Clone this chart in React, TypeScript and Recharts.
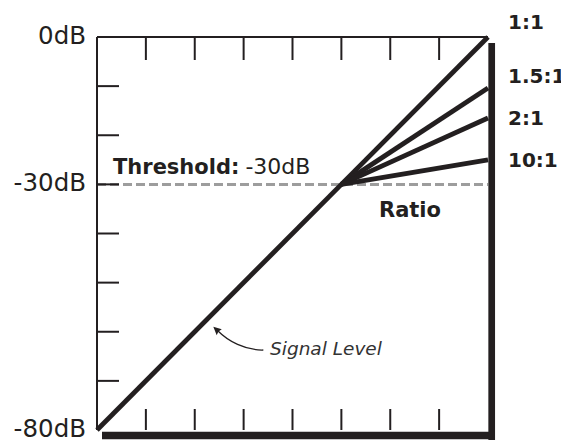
import React from 'react';
import { LineChart, Line, XAxis, YAxis, ReferenceLine, ReferenceDot, LabelList } from 'recharts';

// ---- data ----
const inputLevels = [-80, -30, 0];
const unityOutput = [-80, -30, 0];
const ratio15Output: (number | null)[] = [null, -30, -10.4];
const ratio2Output: (number | null)[] = [null, -30, -16.5];
const ratio10Output: (number | null)[] = [null, -30, -25];
const thresholdDb = -30;
const innerTicks = [-70, -60, -50, -40, -30, -20, -10];
const levelTicks = [-80, -70, -60, -50, -40, -30, -20, -10, 0];
const labelledLevels = [0, -30, -80];
const levelLabels = ['0dB', '-30dB', '-80dB'];
const ratioLabels = ['1:1', '1.5:1', '2:1', '10:1'];
const thresholdLabel = ['Threshold:', '-30dB'];
const ratioTitle = 'Ratio';
const signalLabel = 'Signal Level';
const signalPoint = -57;

const data = inputLevels.map((input, i) => ({
  input,
  unity: unityOutput[i],
  r15: ratio15Output[i],
  r2: ratio2Output[i],
  r10: ratio10Output[i],
}));

const INK = '#231f20';
const FONT = '"DejaVu Sans", sans-serif';

const TopTick = (p: any) => (
  <line x1={p.x} y1={p.y} x2={p.x} y2={p.y + 23} stroke={INK} strokeWidth={2} />
);
const BottomTick = (p: any) => (
  <line x1={p.x} y1={p.y} x2={p.x} y2={p.y - 21} stroke={INK} strokeWidth={2} />
);
const RightTick = (p: any) => (
  <line x1={p.x - 22} y1={p.y} x2={p.x} y2={p.y} stroke={INK} strokeWidth={2} />
);
const LeftTick = (p: any) => {
  const v = p.payload?.value;
  const idx = labelledLevels.indexOf(v);
  return (
    <g>
      {v > -80 && v < 0 && (
        <line x1={p.x} y1={p.y} x2={p.x + 22} y2={p.y} stroke={INK} strokeWidth={2} />
      )}
      {idx >= 0 && (
        <text x={p.x - 11} y={p.y} dy="0.28em" textAnchor="end" fontFamily={FONT} fontSize={24.5} fill={INK}>
          {levelLabels[idx]}
        </text>
      )}
    </g>
  );
};

const makeRatioLabel = (text: string, lastValue: number | null, dy: number) => (props: any) => {
  const x = props.x ?? props.viewBox?.x;
  const y = props.y ?? props.viewBox?.y;
  if (props.value !== lastValue || x == null || y == null) return null;
  return (
    <text x={x + 20} y={y + dy} fontFamily={FONT} fontWeight="bold" fontSize={20} fill={INK}>
      {text}
    </text>
  );
};

const ThresholdLabel = (props: any) => {
  const vb = props.viewBox || {};
  return (
    <text x={vb.x + 16} y={vb.y - 10} fontFamily={FONT} fontSize={21} fill={INK}>
      <tspan fontWeight="bold">{thresholdLabel[0]}</tspan>
      <tspan dx={6} fontSize={22}>{thresholdLabel[1]}</tspan>
    </text>
  );
};

const RatioTitle = (p: any) => (
  <text x={p.cx + 37.6} y={p.cy + 32.6} fontFamily={FONT} fontWeight="bold" fontSize={21} fill={INK}>
    {ratioTitle}
  </text>
);

const SignalAnnotation = (p: any) => {
  const { cx, cy } = p;
  return (
    <g>
      <path
        d={`M${cx + 53.9},${cy + 33} C${cx + 35.6},${cy + 33.5} ${cx + 18.6},${cy + 24} ${cx + 8.6},${cy + 14}`}
        fill="none"
        stroke={INK}
        strokeWidth={1.3}
      />
      <polygon
        points={`${cx + 3.9},${cy + 9.7} ${cx + 12.4},${cy + 12.3} ${cx + 9},${cy + 14.5} ${cx + 7.3},${cy + 18.2}`}
        fill={INK}
      />
      <text x={cx + 60.6} y={cy + 38} fontFamily={FONT} fontStyle="italic" fontSize={18.5} fill="#333333">
        {signalLabel}
      </text>
    </g>
  );
};

export default function App() {
  return (
    <LineChart width={561} height={432} data={data} margin={{ top: 0, right: 0, bottom: 0, left: 0 }}>
      <XAxis
        xAxisId="b"
        dataKey="input"
        type="number"
        domain={[-80, 0]}
        ticks={innerTicks}
        interval={0}
        orientation="bottom"
        height={10}
        tickSize={0}
        tickMargin={0}
        tickLine={false}
        tick={BottomTick}
        axisLine={{ stroke: INK, strokeWidth: 7.5, transform: 'translate(5,5.5)' }}
      />
      <XAxis
        xAxisId="t"
        dataKey="input"
        type="number"
        domain={[-80, 0]}
        ticks={innerTicks}
        interval={0}
        orientation="top"
        height={29}
        tickSize={0}
        tickMargin={0}
        tickLine={false}
        tick={TopTick}
        axisLine={{ stroke: INK, strokeWidth: 2 }}
      />
      <YAxis
        yAxisId="l"
        type="number"
        domain={[-80, 0]}
        ticks={levelTicks}
        interval={0}
        width={89}
        tickSize={0}
        tickMargin={0}
        tickLine={false}
        tick={LeftTick}
        axisLine={{ stroke: INK, strokeWidth: 2 }}
      />
      <YAxis
        yAxisId="r"
        orientation="right"
        type="number"
        domain={[-80, 0]}
        ticks={innerTicks}
        interval={0}
        width={81}
        tickSize={0}
        tickMargin={0}
        tickLine={false}
        tick={RightTick}
        axisLine={{ stroke: INK, strokeWidth: 6.7, strokeLinecap: 'square', transform: 'translate(3.7,9.35)' }}
      />
      <ReferenceLine
        xAxisId="b"
        yAxisId="l"
        y={thresholdDb}
        stroke="#9d9d9d"
        strokeWidth={3}
        strokeDasharray="9 4"
        label={<ThresholdLabel />}
      />
      <Line xAxisId="b" yAxisId="l" dataKey="unity" stroke={INK} strokeWidth={4.8} dot={false} isAnimationActive={false}>
        <LabelList dataKey="unity" content={makeRatioLabel(ratioLabels[0], unityOutput[2], -8)} />
      </Line>
      <Line xAxisId="b" yAxisId="l" dataKey="r15" stroke={INK} strokeWidth={4.8} dot={false} isAnimationActive={false}>
        <LabelList dataKey="r15" content={makeRatioLabel(ratioLabels[1], ratio15Output[2], -5)} />
      </Line>
      <Line xAxisId="b" yAxisId="l" dataKey="r2" stroke={INK} strokeWidth={4.8} dot={false} isAnimationActive={false}>
        <LabelList dataKey="r2" content={makeRatioLabel(ratioLabels[2], ratio2Output[2], 7)} />
      </Line>
      <Line xAxisId="b" yAxisId="l" dataKey="r10" stroke={INK} strokeWidth={4.8} dot={false} isAnimationActive={false}>
        <LabelList dataKey="r10" content={makeRatioLabel(ratioLabels[3], ratio10Output[2], 7)} />
      </Line>
      <ReferenceDot xAxisId="b" yAxisId="l" x={thresholdDb} y={thresholdDb} r={0} shape={RatioTitle} />
      <ReferenceDot xAxisId="b" yAxisId="l" x={signalPoint} y={signalPoint} r={0} shape={SignalAnnotation} />
    </LineChart>
  );
}
